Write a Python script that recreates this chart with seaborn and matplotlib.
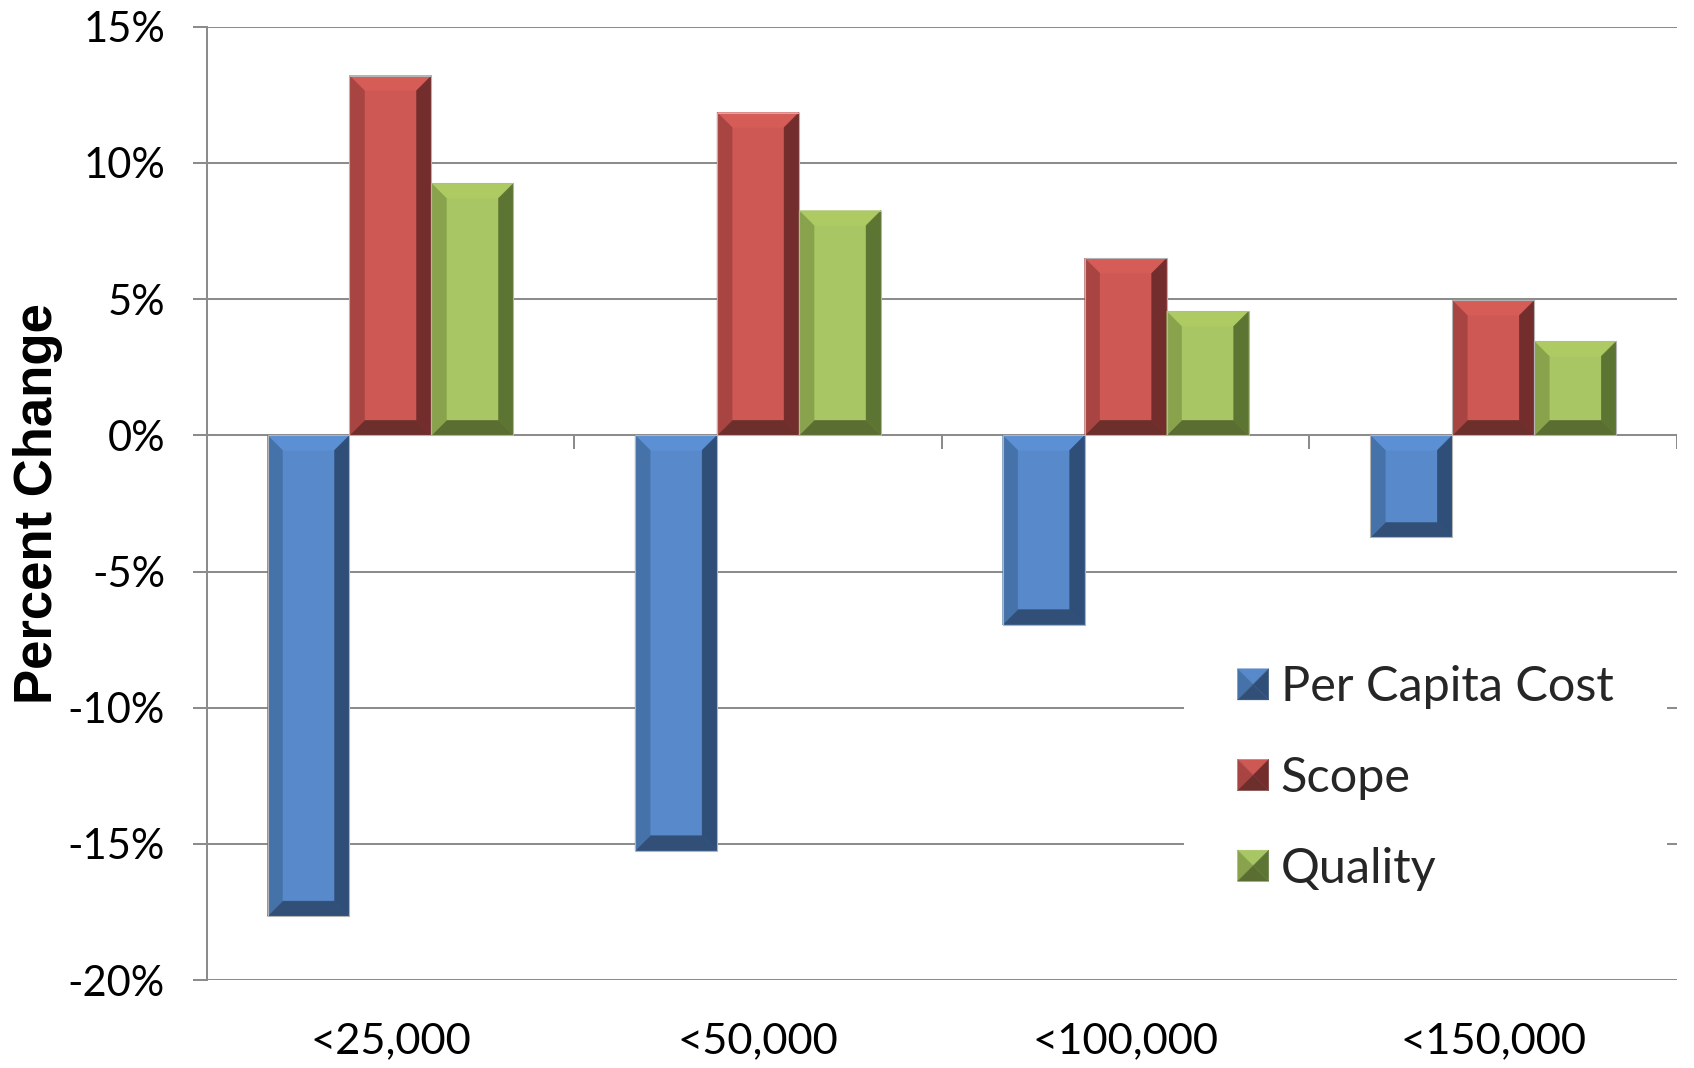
import numpy as np
import pandas as pd
import matplotlib
matplotlib.use("Agg")
import matplotlib.pyplot as plt
from matplotlib.patches import Polygon, Patch, Rectangle
from matplotlib.legend_handler import HandlerBase
import seaborn as sns

# ---- data ----
size_groups = ["<25,000", "<50,000", "<100,000", "<150,000"]
metrics = ["Per Capita Cost", "Scope", "Quality"]
per_capita_cost = [-17.65, -15.25, -6.95, -3.75]
scope = [13.2, 11.85, 6.5, 4.95]
quality = [9.25, 8.25, 4.55, 3.45]
y_ticks = [-20, -15, -10, -5, 0, 5, 10, 15]

# face + bevel shades for each series
shades = {
    "Per Capita Cost": dict(face="#5889CA", top="#5C90D4", left="#4572A8",
                            right="#2F4F78", bottom="#324F78"),
    "Scope": dict(face="#CD5854", top="#D65C58", left="#A84442",
                  right="#742D2D", bottom="#6D2F2C"),
    "Quality": dict(face="#A8C663", top="#AECB63", left="#88A34B",
                    right="#5D7532", bottom="#5B6E32"),
}

rows = []
for metric, vals in zip(metrics, [per_capita_cost, scope, quality]):
    for grp, v in zip(size_groups, vals):
        rows.append({"group": grp, "metric": metric, "value": v})
df = pd.DataFrame(rows)

sns.set_theme(style="white")
plt.rcParams["font.family"] = ["Lato", "DejaVu Sans"]

GRID = "#8C8C8C"

fig = plt.figure(figsize=(16.94, 10.68), dpi=100)
ax = fig.add_axes([0.1220, 0.0823, 0.8680, 0.8927])

sns.barplot(data=df, x="group", y="value", hue="metric", order=size_groups,
            hue_order=metrics, palette=[shades[m]["face"] for m in metrics],
            width=0.669, saturation=1, edgecolor="none", linewidth=0,
            legend=False, ax=ax, zorder=3)

ax.set_xlim(-0.5, len(size_groups) - 0.5)
ax.set_ylim(y_ticks[0], y_ticks[-1])

# grid and spines
ax.set_yticks(y_ticks, labels=[f"{t}%" for t in y_ticks])
ax.yaxis.grid(True, color=GRID, linewidth=1.45, zorder=0)
ax.xaxis.grid(False)
ax.set_axisbelow(True)
for side in ["top", "right", "bottom"]:
    ax.spines[side].set_visible(False)
ax.spines["left"].set_color(GRID)
ax.spines["left"].set_linewidth(1.45)
ax.tick_params(axis="y", which="major", direction="out", length=10,
               width=1.45, color=GRID, pad=20, labelsize=30, labelcolor="black",
               left=True)
ax.tick_params(axis="x", length=0, pad=30, labelsize=31.3, labelcolor="black")
ax.set_xlabel("")

# 3D bevel effect on each bar, sized in screen pixels
px_x = ax.transData.transform((1, 0))[0] - ax.transData.transform((0, 0))[0]
px_y = ax.transData.transform((0, 1))[1] - ax.transData.transform((0, 0))[1]
bevel_px = 15
for metric, container in zip(metrics, ax.containers):
    c = shades[metric]
    for bar in container:
        x0 = bar.get_x()
        x1 = x0 + bar.get_width()
        y0 = min(bar.get_y(), bar.get_y() + bar.get_height())
        y1 = max(bar.get_y(), bar.get_y() + bar.get_height())
        bx = bevel_px / px_x
        by = min(bevel_px / px_y, (y1 - y0) / 2)
        pieces = [
            ([(x0, y1), (x1, y1), (x1 - bx, y1 - by), (x0 + bx, y1 - by)], c["top"]),
            ([(x0, y0), (x1, y0), (x1 - bx, y0 + by), (x0 + bx, y0 + by)], c["bottom"]),
            ([(x0, y0), (x0 + bx, y0 + by), (x0 + bx, y1 - by), (x0, y1)], c["left"]),
            ([(x1, y0), (x1 - bx, y0 + by), (x1 - bx, y1 - by), (x1, y1)], c["right"]),
        ]
        for pts, col in pieces:
            ax.add_patch(Polygon(pts, closed=True, facecolor=col, edgecolor=col,
                                 linewidth=0.3, zorder=4))
        ax.add_patch(Rectangle((x0, y0), x1 - x0, y1 - y0, fill=False,
                               edgecolor="#B4B4B4", linewidth=0.8, zorder=5))

# category axis along zero with boundary ticks
ax.axhline(0, color=GRID, linewidth=1.45, zorder=2)
tick_len = 14 / px_y
ax.vlines(np.arange(len(size_groups)) + 0.5, -tick_len, 0, color=GRID,
          linewidth=1.45, zorder=2)

# y-axis title
ax.set_ylabel("Percent Change", fontsize=38, fontweight="bold",
              family=["Liberation Sans", "DejaVu Sans"], color="black")
ax.yaxis.set_label_coords(-0.0977, 0.5)


# legend with pyramid-shaded swatches
class BevelSwatch(HandlerBase):
    def create_artists(self, legend, orig_handle, xdescent, ydescent,
                       width, height, fontsize, trans):
        c = shades[orig_handle.get_label()]
        s = min(width, height)
        x0 = -xdescent + (width - s) / 2
        y0 = -ydescent + (height - s) / 2
        cx, cy = x0 + s / 2, y0 + s / 2
        tris = [
            ([(x0, y0 + s), (x0 + s, y0 + s), (cx, cy)], c["face"]),
            ([(x0, y0), (x0, y0 + s), (cx, cy)], c["left"]),
            ([(x0 + s, y0), (x0 + s, y0 + s), (cx, cy)], c["right"]),
            ([(x0, y0), (x0 + s, y0), (cx, cy)], c["bottom"]),
        ]
        arts = []
        for pts, col in tris:
            p = Polygon(pts, closed=True, facecolor=col, edgecolor=col,
                        linewidth=0.3, transform=trans)
            arts.append(p)
        return arts


handles = [Patch(facecolor=shades[m]["face"], label=m) for m in metrics]
leg = ax.legend(handles=handles, labels=metrics, loc="upper left",
                bbox_to_anchor=(0.6990, 0.4270), bbox_transform=fig.transFigure,
                handler_map={Patch: BevelSwatch()}, fontsize=35,
                handlelength=0.64, handleheight=0.64, handletextpad=0.25,
                labelspacing=0.96, borderpad=1.1, borderaxespad=0,
                frameon=True, fancybox=False, framealpha=1)
leg.get_frame().set_facecolor("white")
leg.get_frame().set_edgecolor("none")
leg.set_zorder(6)

fig.savefig("out.png", dpi=100, facecolor="white")
